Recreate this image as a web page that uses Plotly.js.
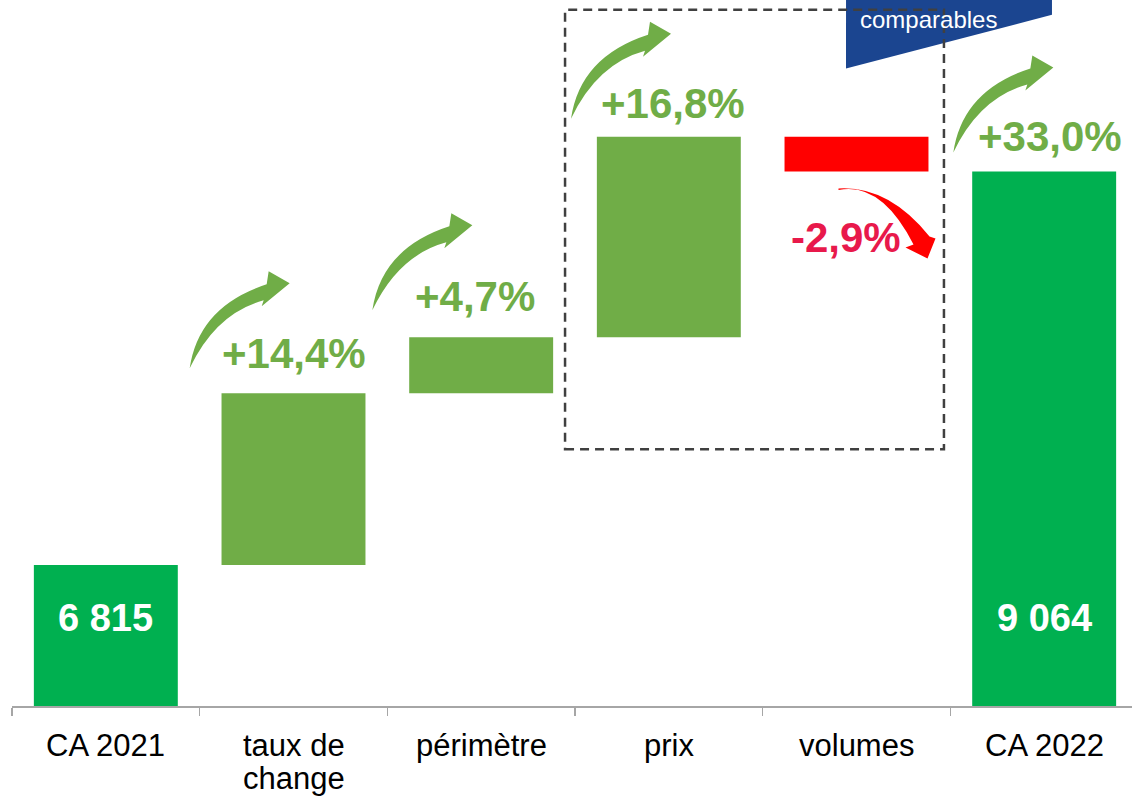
<!DOCTYPE html>
<html><head><meta charset="utf-8">
<script src="https://cdn.plot.ly/plotly-3.0.1.min.js"></script>
<style>html,body{margin:0;padding:0;overflow:hidden;background:#fff;width:1132px;height:796px}#chart{width:1138px;height:796px}</style>
</head><body><div id="chart"></div>
<script>
// ---- data ----
const categories = ["CA 2021", "taux de<br>change", "périmètre", "prix", "volumes", "CA 2022"];
const measures = ["absolute", "relative", "relative", "relative", "relative", "total"];
const values = [6815, 981, 320, 1146, -198, 0];
const boxText = "comparables";

// ---- styles ----
const C_TOTAL = "#00B050", C_UP = "#70AD47", C_DOWN = "#FF0000", C_DOWN_TXT = "#E8194B";
const FONT = "Liberation Sans, Arial, sans-serif";
const pctShift = [0, 40, 41, 33, -66, 35];   // px from bar end to label centre
const pctXShift = [0, 0, -6, 4, -11, 6];
const arrowTail = {1: [-10, 25], 2: [-15, 27], 3: [-4, 18], 5: [3, 19]}; // px from left boundary / bar top
const redTail = [-18, -17];
const catLabelShift = -39, catLineStep = 33;

// cumulative ends
const ends = [];
let run = 0;
values.forEach((v, i) => {
  if (measures[i] === "absolute") { run = v; }
  else if (measures[i] === "relative") { run += v; }
  ends.push(run);
});
const base = values[0];
const fmtInt = n => String(Math.round(n)).replace(/\B(?=(\d{3})+(?!\d))/g, " ");
const fmtPct = p => (p >= 0 ? "+" : "-") + Math.abs(p).toFixed(1).replace(".", ",") + "%";

const yMin = 6009, yMax = 10044;

const annotations = [];
const shapes = [];

// blue box (below dashed frame)
shapes.push({type: "path", xref: "paper", yref: "paper",
  path: "M 0.7407 1.03 L 0.9236 1.03 L 0.9236 0.979 L 0.7407 0.903 Z",
  fillcolor: "#1B4590", line: {width: 0}, layer: "above"});
annotations.push({xref: "paper", yref: "paper", x: 0.8135, y: 0.972, xanchor: "center", yanchor: "middle",
  text: boxText, showarrow: false, font: {family: FONT, size: 24, color: "#FFFFFF"}});

// dashed frame around prix & volumes
shapes.push({type: "rect", xref: "x", yref: "y", x0: 3 - 0.553, x1: 4 + 0.466, y0: 7477, y1: 9988,
  line: {color: "#404040", width: 2.5, dash: "9px,6px"}, fillcolor: "rgba(0,0,0,0)", layer: "above"});

const greenArrow = "M 0 0 Q 9 62 77 84 L 79 97 L 100 85 L 72 62 L 74 68 Q 26 55 0 0 Z";
const redArrow = "M 0 0 Q 50 3 91 -48 L 97 -50 L 89 -70 L 67 -59 L 75 -56 Q 43 7 0 -1.5 Z";

categories.forEach((c, i) => {
  // category labels (lines drawn with tighter spacing than tick labels allow)
  c.split("<br>").forEach((line, k) => {
    annotations.push({x: i, y: yMin, yshift: catLabelShift - k * catLineStep, xanchor: "center", yanchor: "middle",
      xref: "x", yref: "y", text: line, showarrow: false,
      font: {family: FONT, size: 31, color: "#000000"}});
  });
  if (measures[i] === "absolute" || measures[i] === "total") {
    annotations.push({x: i, y: yMin, yshift: 88, xanchor: "center", yanchor: "middle", xref: "x", yref: "y",
      text: fmtInt(ends[i]), showarrow: false,
      font: {family: FONT, size: 38, color: "#FFFFFF", weight: "bold"}});
  }
  if (i === 0) return;
  let pct, top;
  if (measures[i] === "total") { pct = (ends[i] / base - 1) * 100; top = ends[i]; }
  else { pct = values[i] / base * 100; top = ends[i]; }
  const neg = pct < 0;
  annotations.push({x: i, y: top, yshift: pctShift[i], xshift: pctXShift[i], xanchor: "center", yanchor: "middle",
    xref: "x", yref: "y", text: fmtPct(pct), showarrow: false,
    font: {family: FONT, size: 42, color: neg ? C_DOWN_TXT : C_UP, weight: "bold"}});
  if (neg) {
    shapes.push({type: "path", xref: "x", yref: "y", xsizemode: "pixel", ysizemode: "pixel",
      xanchor: i, yanchor: ends[i], layer: "above",
      path: redArrow.replace(/(-?\d+(\.\d+)?) (-?\d+(\.\d+)?)/g, (m, a, _, b) =>
        (parseFloat(a) + redTail[0]) + " " + (parseFloat(b) + redTail[1])),
      fillcolor: C_DOWN, line: {width: 0}});
  } else {
    const t = arrowTail[i];
    shapes.push({type: "path", xref: "x", yref: "y", xsizemode: "pixel", ysizemode: "pixel",
      xanchor: i - 0.5, yanchor: top, layer: "above",
      path: greenArrow.replace(/(-?\d+(\.\d+)?) (-?\d+(\.\d+)?)/g, (m, a, _, b) =>
        (parseFloat(a) + t[0]) + " " + (parseFloat(b) + t[1])),
      fillcolor: C_UP, line: {width: 0}});
  }
});

const trace = {
  type: "waterfall", x: categories, y: values, measure: measures,
  increasing: {marker: {color: C_UP, line: {width: 0}}},
  decreasing: {marker: {color: C_DOWN, line: {width: 0}}},
  totals: {marker: {color: C_TOTAL, line: {width: 0}}},
  connector: {visible: false}, textinfo: "none", hoverinfo: "skip"
};

const layout = {
  width: 1138, height: 796,
  margin: {l: 12, r: 0, t: 0, b: 90},
  paper_bgcolor: "#FFFFFF", plot_bgcolor: "#FFFFFF",
  showlegend: false, waterfallgap: 0.233,
  xaxis: {type: "category", range: [-0.5, 5.5], tickson: "boundaries", ticks: "outside",
    ticklen: 8, tickwidth: 1.5, tickcolor: "#A6A6A6", showline: true, linecolor: "#A6A6A6",
    linewidth: 1.5, showgrid: false, zeroline: false, showticklabels: false, fixedrange: true},
  yaxis: {range: [yMin, yMax], showgrid: false, zeroline: false, showticklabels: false,
    showline: false, ticks: "", fixedrange: true},
  shapes: shapes, annotations: annotations,
  font: {family: FONT}
};

Plotly.newPlot("chart", [trace], layout, {displayModeBar: false, staticPlot: true});
</script></body></html>
